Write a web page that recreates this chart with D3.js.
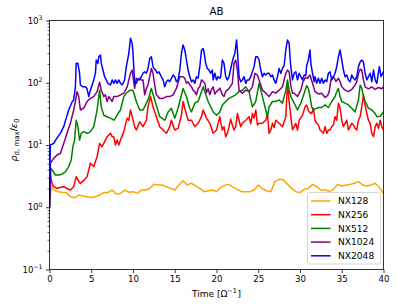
<!DOCTYPE html>
<html><head><meta charset="utf-8">
<script src="https://cdn.jsdelivr.net/npm/d3@7"></script>
<style>
html,body{margin:0;padding:0;background:#fff;}
svg{display:block;font-family:"DejaVu Sans",sans-serif;}
</style></head><body>
<svg id="chart" width="396" height="306"></svg>
<script>
const chartTitle = "AB";
const seriesNames = ["NX128","NX256","NX512","NX1024","NX2048"];
const seriesColors = ["#ffa500","#ff0000","#008000","#800080","#0000ff"];
const xTicks = [0,5,10,15,20,25,30,35,40];
const yTickExponents = [-1,0,1,2,3];

// [time, rho_max/eps0]
const nx128 = [[0,1],[0.2,2.2],[0.5,1.89],[1,1.78],[1.5,1.74],[2,1.72],[2.5,1.48],[3,1.42],[3.5,1.57],[4,1.52],[4.5,1.48],[5,1.44],[5.5,1.48],[6,1.57],[6.5,1.72],[7,1.72],[7.5,1.89],[8,1.63],[8.5,1.67],[9,1.89],[9.5,1.74],[10,1.78],[10.5,1.67],[11,1.89],[11.5,1.89],[12,2.0],[12.5,2.35],[13,2.28],[13.5,2.28],[14,2.14],[14.5,2.01],[15,1.89],[15.5,2.28],[16,2.67],[16.5,2.28],[17,2.43],[17.5,2.2],[18,2.01],[18.5,1.78],[19,1.84],[19.5,1.89],[20,1.78],[20.5,2.09],[21,2.25],[21.5,2.33],[22,2.09],[22.5,1.94],[23,1.78],[23.5,1.78],[24,1.78],[24.5,1.89],[25,2.28],[25.5,1.98],[26,1.84],[26.5,1.78],[27,2.58],[27.5,2.81],[28,2.74],[28.5,2.35],[29,2.01],[29.5,1.78],[30,1.72],[30.5,1.94],[31,2.01],[31.5,2.33],[32,2.14],[32.5,1.89],[33,1.89],[33.5,1.8],[34,1.94],[34.5,2.33],[35,2.2],[35.5,2.28],[36,2.33],[36.5,2.43],[37,2.58],[37.5,2.28],[38,2.2],[38.5,2.28],[39,2.43],[39.5,2.09],[40,1.67]];

const nx256 = [[0,1],[0.1,3.5],[0.3,2.4],[0.5,2.14],[0.9,2.0],[1.3,2.1],[1.7,2.14],[2.1,2.0],[2.5,1.89],[2.9,2.14],[3.2,3.1],[3.5,2.6],[3.7,2.4],[4.1,2.7],[4.5,3.1],[4.9,5.1],[5.3,4.5],[5.7,6.5],[6.0,10.6],[6.3,9.4],[6.5,10.6],[6.9,13.6],[7.3,15.4],[7.5,13.6],[7.7,13.6],[7.9,10],[8.1,12],[8.3,10],[8.5,12],[8.9,16.4],[9.3,27],[9.5,25],[9.7,36.5],[9.9,28.5],[10.2,19.7],[10.4,17.4],[10.8,23.5],[11.2,19.7],[11.6,25],[11.8,41],[12.1,60],[12.4,41],[12.8,28.5],[13.2,19.7],[13.6,17.4],[14.0,15.4],[14.4,19.7],[14.6,25],[15.0,17.4],[15.4,18.5],[15.8,30],[16.0,50],[16.2,39],[16.6,25],[17.0,25],[17.4,19.7],[17.8,22.3],[18.2,28.5],[18.4,36.5],[18.8,27],[19.2,22.3],[19.6,15.4],[20.0,17.4],[20.4,28.5],[20.5,23.5],[20.7,17.4],[20.9,19.7],[21.1,13.6],[21.3,15.4],[21.5,19.7],[21.7,26],[21.9,21],[22.1,17.4],[22.3,19.7],[22.5,32],[22.7,25],[22.9,19.7],[23.1,22.3],[23.5,25],[23.9,28.5],[24.1,22],[24.3,32],[24.5,27],[24.7,36.5],[24.9,21],[25.1,22.3],[25.5,22.3],[25.9,25],[26.1,32],[26.3,15.4],[26.5,17.4],[26.7,22.3],[26.9,19],[27.1,25],[27.5,22.3],[27.9,19.7],[28.3,28.5],[28.5,98],[28.7,50],[28.9,28.5],[29.1,17.4],[29.3,19.7],[29.5,22.3],[29.7,17.4],[29.9,25],[30.3,30],[30.6,41],[30.8,44],[31.0,36],[31.2,33],[31.4,32],[31.6,39],[31.8,25],[32.0,22.3],[32.2,21],[32.4,17.4],[32.6,16.5],[32.8,15.4],[33.0,19.7],[33.2,15.4],[33.4,17.4],[33.6,17.4],[33.8,19.7],[34.0,21],[34.2,28.5],[34.4,25],[34.6,47],[34.8,39],[35.0,25],[35.2,19.7],[35.4,22.3],[35.6,25],[35.8,17.4],[36.0,19.7],[36.2,22.3],[36.4,21],[36.6,18.5],[36.8,17.4],[37.0,25],[37.2,28.5],[37.4,41],[37.6,64],[37.8,44],[38.0,32],[38.2,25],[38.4,22.3],[38.6,15.4],[38.8,13.6],[39.0,19.7],[39.2,22.3],[39.4,18.5],[39.6,25],[39.8,19.7],[40.0,17.4]];

const nx512 = [[0,1],[0.15,4.2],[0.3,4.0],[0.7,3.3],[1.1,3.3],[1.5,3.4],[1.9,3.7],[2.3,4.5],[2.6,5.7],[2.8,9.4],[3.0,12],[3.2,25],[3.4,19.7],[3.6,12],[3.8,15.4],[4.1,16.4],[4.5,15.4],[4.9,16.4],[5.3,19.7],[5.7,36.5],[6.0,76],[6.2,41],[6.5,30],[6.9,28.5],[7.3,27],[7.7,25],[7.9,27],[8.2,32],[8.5,36.5],[8.9,60],[9.3,70],[9.7,76],[10.0,76],[10.4,50],[10.8,36.5],[11.2,36.5],[11.8,53],[12.2,81],[12.6,53],[13.2,28.5],[13.8,25],[14.2,34],[14.6,39],[15.0,27],[15.4,39],[16.0,81],[16.4,60],[16.8,39],[17.0,34],[17.4,47],[17.8,50],[18.4,86],[19.0,50],[19.6,34],[20.0,30],[20.4,34],[20.7,44],[21.1,50],[21.5,56],[21.9,60],[22.3,64],[22.7,72],[23.1,76],[23.5,86],[23.9,72],[24.1,53],[24.3,41],[24.7,50],[25.1,98],[25.5,60],[25.9,36.5],[26.1,28.5],[26.3,41],[26.7,50],[27.1,50],[27.5,53],[27.9,47],[28.3,76],[28.5,111],[28.7,76],[28.9,60],[29.3,47],[29.7,36.5],[30.1,47],[30.5,68],[30.8,90],[31.0,81],[31.2,60],[31.4,41],[31.6,36.5],[31.8,38],[32.2,40],[32.6,40],[33.0,44],[33.4,40],[33.8,50],[34.2,60],[34.4,72],[34.6,81],[34.8,60],[35.0,50],[35.4,47],[35.8,44],[36.2,39],[36.6,34],[37.0,53],[37.2,92],[37.4,81],[37.6,60],[37.8,50],[38.2,39],[38.6,36.5],[39.0,32],[39.2,28.5],[39.6,29],[40.0,34]];

const nx1024 = [[0,1],[0.1,5.1],[0.5,6.1],[0.9,6.9],[1.3,7.3],[1.7,10.6],[2.1,15.4],[2.5,22.3],[2.9,36.5],[3.1,50],[3.3,72],[3.5,60],[3.7,36.5],[4.1,39],[4.5,50],[4.9,56],[5.3,60],[5.7,72],[6.0,102],[6.2,76],[6.5,60],[6.7,64],[6.9,50],[7.1,60],[7.5,50],[7.7,60],[8.1,60],[8.5,64],[8.9,68],[9.3,86],[9.7,142],[9.9,160],[10.2,81],[10.4,118],[10.6,111],[10.8,118],[11.0,111],[11.2,111],[11.4,64],[11.6,81],[11.8,92],[12.0,125],[12.2,170],[12.4,142],[12.6,92],[12.8,64],[13.0,60],[13.2,56],[13.6,56],[14.0,60],[14.4,60],[14.8,64],[15.2,81],[15.6,125],[16.0,125],[16.2,118],[16.4,98],[16.6,104],[16.8,92],[17.0,86],[17.2,76],[17.4,72],[17.6,64],[17.8,81],[18.0,86],[18.2,111],[18.4,105],[18.6,98],[18.8,70],[19.0,80],[19.2,64],[19.4,78],[19.6,86],[19.8,66],[20.0,72],[20.2,76],[20.4,82],[20.7,64],[20.9,60],[21.1,72],[21.5,81],[21.9,98],[22.1,205],[22.3,232],[22.5,160],[22.7,76],[23.1,68],[23.5,76],[23.9,72],[24.3,86],[24.6,142],[24.9,133],[25.3,92],[25.5,76],[25.9,68],[26.3,60],[26.7,72],[27.1,68],[27.5,76],[27.9,86],[28.3,142],[28.5,160],[28.7,150],[28.9,90],[29.1,68],[29.3,68],[29.7,60],[29.9,68],[30.1,76],[30.3,98],[30.6,120],[30.9,118],[31.2,133],[31.5,98],[31.8,72],[32.2,66],[32.6,68],[33.0,58],[33.3,62],[33.5,72],[33.7,111],[34.0,125],[34.3,105],[34.6,118],[34.8,104],[35.0,86],[35.4,76],[35.8,72],[36.2,78],[36.6,92],[36.8,104],[37.0,142],[37.2,165],[37.4,160],[37.6,111],[37.8,86],[38.2,80],[38.6,86],[39.0,78],[39.4,84],[39.8,80],[40.0,86]];

const nx2048 = [[0,1],[0.1,10],[0.5,10.6],[0.9,13],[1.3,15.4],[1.7,19.7],[2.0,27],[2.3,36.5],[2.7,49],[2.9,53],[3.1,86],[3.2,205],[3.4,205],[3.6,142],[3.7,92],[4.0,86],[4.3,86],[4.5,80],[4.7,60],[4.9,76],[5.1,92],[5.3,111],[5.5,142],[5.6,232],[5.8,205],[5.9,262],[6.1,279],[6.2,205],[6.4,160],[6.6,125],[6.8,111],[7.0,98],[7.3,92],[7.5,111],[7.7,98],[7.9,111],[8.1,98],[8.3,111],[8.5,98],[8.7,92],[9.0,111],[9.2,181],[9.5,297],[9.7,517],[9.9,429],[10.0,300],[10.2,100],[10.4,98],[10.6,115],[10.8,111],[11.0,125],[11.2,142],[11.4,150],[11.6,142],[11.8,170],[12.0,245],[12.2,262],[12.3,218],[12.4,181],[12.5,170],[12.7,160],[12.9,142],[13.1,150],[13.4,125],[13.6,111],[13.8,86],[14.0,104],[14.2,111],[14.4,104],[14.6,118],[14.8,133],[15.0,125],[15.2,104],[15.4,111],[15.6,160],[15.8,297],[16.0,405],[16.2,336],[16.4,232],[16.6,160],[16.8,125],[17.0,104],[17.2,111],[17.4,98],[17.6,125],[17.8,118],[18.0,181],[18.2,330],[18.4,355],[18.5,315],[18.7,205],[18.9,170],[19.1,160],[19.3,142],[19.5,160],[19.6,111],[19.8,142],[20.0,111],[20.2,125],[20.4,118],[20.5,125],[20.7,232],[20.9,205],[21.1,125],[21.3,111],[21.5,125],[21.8,193],[22.0,247],[22.2,297],[22.4,486],[22.5,336],[22.7,125],[22.9,104],[23.1,111],[23.3,125],[23.5,98],[23.7,111],[23.9,111],[24.1,125],[24.3,151],[24.5,181],[24.7,262],[24.9,262],[25.1,232],[25.3,160],[25.5,125],[25.7,142],[25.9,133],[26.1,142],[26.3,142],[26.5,125],[26.7,133],[26.9,111],[27.1,98],[27.3,125],[27.5,170],[27.7,142],[27.9,170],[28.1,190],[28.3,336],[28.5,486],[28.7,429],[28.8,262],[28.9,181],[29.1,111],[29.3,142],[29.5,150],[29.7,111],[29.9,142],[30.1,125],[30.3,111],[30.5,133],[30.7,130],[30.8,190],[31.0,232],[31.2,336],[31.3,205],[31.5,142],[31.7,104],[31.8,125],[32.0,98],[32.2,118],[32.4,98],[32.6,118],[32.8,98],[33.0,111],[33.2,104],[33.4,142],[33.6,150],[33.8,111],[34.0,125],[34.2,142],[34.4,181],[34.6,262],[34.8,336],[35.0,232],[35.2,160],[35.4,125],[35.6,133],[35.8,111],[36.0,104],[36.2,133],[36.4,118],[36.6,111],[36.8,125],[37.0,181],[37.2,215],[37.4,232],[37.6,215],[37.8,142],[38.0,111],[38.2,125],[38.4,142],[38.6,104],[38.8,160],[39.0,111],[39.2,98],[39.5,181],[39.7,125],[40.0,151]];

const allSeries = [nx128, nx256, nx512, nx1024, nx2048];

const svg = d3.select("#chart");
const L = 49.5, R = 383.5, T = 20.5, B = 269.5;
const x = d3.scaleLinear().domain([0, 40]).range([L, R]);
const y = d3.scaleLog().domain([0.1, 1000]).range([B, T]);
const FONT = "DejaVu Sans, sans-serif";

svg.append("rect").attr("width", 396).attr("height", 306).attr("fill", "#fff");

svg.append("clipPath").attr("id", "plotclip")
  .append("rect").attr("x", L).attr("y", T).attr("width", R - L).attr("height", B - T);

// lines
const line = d3.line().x(d => x(d[0])).y(d => y(d[1]));
const gLines = svg.append("g").attr("clip-path", "url(#plotclip)");
allSeries.forEach((s, i) => {
  gLines.append("path").datum(s)
    .attr("d", line)
    .attr("fill", "none")
    .attr("stroke", seriesColors[i])
    .attr("stroke-width", 1.5)
    .attr("stroke-linejoin", "round")
    .attr("stroke-linecap", "square");
});

// x axis
const xAxis = d3.axisBottom(x).tickValues(xTicks).tickSize(3.5).tickSizeOuter(0).tickFormat(d3.format("d"));
const gx = svg.append("g").attr("transform", `translate(0,${B})`).call(xAxis);
gx.select(".domain").remove();
gx.selectAll(".tick line").attr("stroke", "#000").attr("stroke-width", 0.8);
gx.selectAll(".tick text").attr("y", 12.8).attr("dy", 0)
  .attr("font-family", FONT).attr("font-size", 8.6).attr("fill", "#000");

// y axis major
const majorVals = yTickExponents.map(e => Math.pow(10, e));
const yAxis = d3.axisLeft(y).tickValues(majorVals).tickSize(3.5).tickSizeOuter(0).tickFormat("");
const gy = svg.append("g").attr("transform", `translate(${L},0)`).call(yAxis);
gy.select(".domain").remove();
gy.selectAll(".tick line").attr("stroke", "#000").attr("stroke-width", 0.8);

// y axis minor
const minorVals = [];
for (let e = -1; e < 3; e++) for (let m = 2; m <= 9; m++) minorVals.push(m * Math.pow(10, e));
const yAxisMinor = d3.axisLeft(y).tickValues(minorVals).tickSize(2).tickSizeOuter(0).tickFormat("");
const gym = svg.append("g").attr("transform", `translate(${L},0)`).call(yAxisMinor);
gym.select(".domain").remove();
gym.selectAll(".tick line").attr("stroke", "#000").attr("stroke-width", 0.6);

// y tick labels with superscripts
yTickExponents.forEach(e => {
  const t = svg.append("text")
    .attr("x", 42.5).attr("y", y(Math.pow(10, e)) + 3.0)
    .attr("text-anchor", "end")
    .attr("font-family", FONT).attr("font-size", 8.6).attr("fill", "#000");
  t.append("tspan").text("10");
  t.append("tspan").attr("dy", -3.6).attr("font-size", 6.2).text(e < 0 ? "\u2212" + Math.abs(e) : String(e));
});

// frame
svg.append("rect").attr("x", L).attr("y", T).attr("width", R - L).attr("height", B - T)
  .attr("fill", "none").attr("stroke", "#000").attr("stroke-width", 0.8);

// title
svg.append("text").attr("x", (L + R) / 2).attr("y", 15).attr("text-anchor", "middle")
  .attr("font-family", FONT).attr("font-size", 10.3).attr("fill", "#000").text(chartTitle);

// x label
const xl = svg.append("text").attr("x", (L + R) / 2).attr("y", 297).attr("text-anchor", "middle")
  .attr("font-family", FONT).attr("font-size", 9).attr("fill", "#000");
xl.append("tspan").text("Time [\u03a9");
xl.append("tspan").attr("dy", -3.6).attr("font-size", 6.4).text("\u22121");
xl.append("tspan").attr("dy", 3.6).attr("dx", 0.6).text("]");

// y label
const yl = svg.append("text").attr("transform", `translate(16.5,140) rotate(-90)`)
  .attr("text-anchor", "middle")
  .attr("font-family", FONT).attr("font-size", 9.4).attr("fill", "#000");
yl.append("tspan").attr("font-style", "italic").text("\u03c1");
yl.append("tspan").attr("dy", 2).attr("font-size", 7).text("d, max");
yl.append("tspan").attr("dy", -2).text("/");
yl.append("tspan").attr("font-style", "italic").text("\u03b5");
yl.append("tspan").attr("dy", 2).attr("font-size", 7).text("0");

// legend
const lg = svg.append("g");
lg.append("rect").attr("x", 307.5).attr("y", 192.5).attr("width", 73).attr("height", 71.5)
  .attr("rx", 2).attr("fill", "#fff").attr("fill-opacity", 0.8)
  .attr("stroke", "#cccccc").attr("stroke-width", 0.8);
seriesNames.forEach((name, i) => {
  const yy = 201 + i * 13.7;
  lg.append("line").attr("x1", 311).attr("x2", 330.5).attr("y1", yy).attr("y2", yy)
    .attr("stroke", seriesColors[i]).attr("stroke-width", 1.5);
  lg.append("text").attr("x", 338).attr("y", yy + 3.3)
    .attr("font-family", FONT).attr("font-size", 9.1).attr("fill", "#000").text(name);
});
</script>
</body></html>
